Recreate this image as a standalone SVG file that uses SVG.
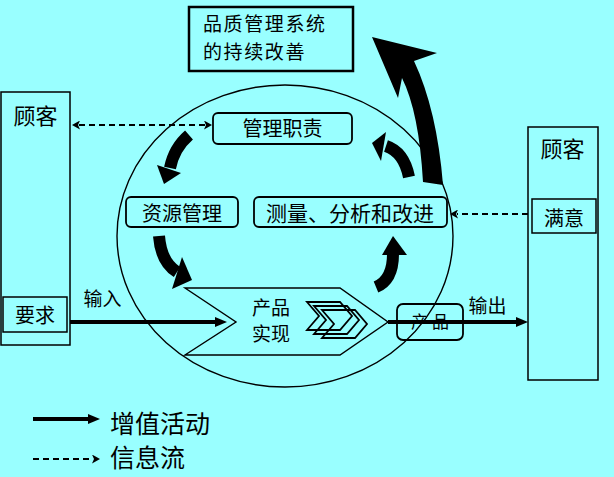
<svg xmlns="http://www.w3.org/2000/svg" width="614" height="477" viewBox="0 0 614 477">
<style>
text { font-family: "Noto Sans CJK SC", "Noto Sans CJK JP", sans-serif; fill: #000; }
.box { fill: none; stroke: #000; stroke-width: 1.5; }
.rbox { fill: none; stroke: #000; stroke-width: 1.8; }
.dash { fill: none; stroke: #000; stroke-width: 2; stroke-dasharray: 6 4; }
.solid { fill: none; stroke: #000; stroke-width: 4; }
.shaft { fill: none; stroke: #000; stroke-width: 12; }
.head { fill: #000; stroke: none; }
.thin { fill: none; stroke: #000; stroke-width: 1.4; }
.chev { fill: none; stroke: #000; stroke-width: 1.8; }
</style>
<defs>
<marker id="ah" markerUnits="userSpaceOnUse" viewBox="0 0 12 10" markerWidth="12" markerHeight="10" refX="2" refY="5" orient="auto"><path d="M0,0 L12,5 L0,10 z"/></marker>
<marker id="dh" markerUnits="userSpaceOnUse" viewBox="0 0 9 9" markerWidth="9" markerHeight="9" refX="1" refY="4.5" orient="auto-start-reverse"><path d="M0,0 L8,4.5 L0,9 L2,4.5 z"/></marker>
</defs>
<rect width="614" height="477" fill="#99FFFF"/>

<ellipse id="cycle" cx="285" cy="236" rx="168" ry="151" class="thin"/>

<g id="qms-improve">
<rect x="189" y="7" width="164" height="64" fill="none" stroke="#000" stroke-width="2.5"/>
<text x="203" y="31" font-size="19" letter-spacing="1.6">品质管理系统</text>
<text x="203" y="58.7" font-size="19" letter-spacing="1.6">的持续改善</text>
</g>

<g id="customer-left">
<rect x="1" y="92" width="69" height="253" class="box"/>
<text x="35.5" y="123.5" font-size="22" text-anchor="middle">顾客</text>
<g id="requirement">
<rect x="3" y="297" width="64" height="35" class="box"/>
<text x="35" y="322.5" font-size="20" text-anchor="middle">要求</text>
</g>
</g>

<g id="customer-right">
<rect x="528" y="127" width="70" height="253" class="box"/>
<text x="562.5" y="156.5" font-size="22" text-anchor="middle">顾客</text>
<g id="satisfaction">
<rect x="532" y="199" width="64" height="34" class="box"/>
<text x="564" y="225.5" font-size="20" text-anchor="middle">满意</text>
</g>
</g>

<g id="mgmt-resp">
<rect x="213" y="113" width="139" height="31" rx="5" class="rbox"/>
<text x="282.5" y="136" font-size="20" text-anchor="middle">管理职责</text>
</g>

<g id="resource-mgmt">
<rect x="126" y="197" width="112" height="30" rx="5" class="rbox"/>
<text x="182" y="220.5" font-size="20" text-anchor="middle">资源管理</text>
</g>

<g id="measure">
<rect x="254" y="197" width="193" height="30" rx="5" class="rbox"/>
<text x="350" y="220.5" font-size="21" text-anchor="middle">测量、分析和改进</text>
</g>

<g id="product-realization">
<polygon points="185,288 340,288 388,322 340,355 185,355 236,322" class="thin"/>
<text x="271" y="315" font-size="19" text-anchor="middle">产品</text>
<text x="271" y="341" font-size="19" text-anchor="middle">实现</text>
<polygon points="307,302 340,302 352,316 340,330 307,330 319,316" class="chev"/>
<polygon points="314,306 347,306 359,320 347,334 314,334 326,320" class="chev"/>
<polygon points="322,310 355,310 367,324 355,338 322,338 334,324" class="chev"/>
</g>

<g id="product">
<rect x="397" y="304" width="66" height="36" rx="6" class="rbox"/>
<text x="411" y="328" font-size="17" letter-spacing="4">产品</text>
</g>

<g id="connectors">
<line x1="79" y1="125" x2="205" y2="125" class="dash" marker-start="url(#dh)" marker-end="url(#dh)"/>
<line x1="528" y1="214" x2="457" y2="214" class="dash" stroke-dasharray="7 4" marker-end="url(#dh)"/>
<line x1="70" y1="322" x2="217" y2="322" class="solid" marker-end="url(#ah)"/>
<line x1="388" y1="322" x2="518" y2="322" class="solid" marker-end="url(#ah)"/>
<text x="102.5" y="305.5" font-size="19" text-anchor="middle">输入</text>
<text x="487.5" y="313" font-size="19" text-anchor="middle">输出</text>
<path d="M189,135 Q174,148 170,168" class="shaft"/>
<polygon points="157,165 181,173 164,184" class="head"/>
<path d="M159,236 Q161,262 177,272" class="shaft"/>
<polygon points="182,257 192,280 172,289" class="head"/>
<path d="M376,287 Q393,280 393,254" class="shaft" stroke-width="13"/>
<polygon points="393,236 407,255 382,255" class="head"/>
<path d="M386,146 Q404,152 409,177" class="shaft"/>
<polygon points="372,143 386,132 381,161" class="head"/>
<path d="M372,37 L437,53 L414,61 Q437,110 443,185 L423,182 Q419,112 402,78 L398,98 Z" class="head"/>
</g>

<g id="legend">
<line x1="33" y1="419" x2="90" y2="419" class="solid" marker-end="url(#ah)"/>
<text x="110" y="433" font-size="25">增值活动</text>
<line x1="33" y1="459" x2="93" y2="459" class="dash" stroke-dasharray="8 5" marker-end="url(#dh)"/>
<text x="110" y="467" font-size="25">信息流</text>
</g>
</svg>
